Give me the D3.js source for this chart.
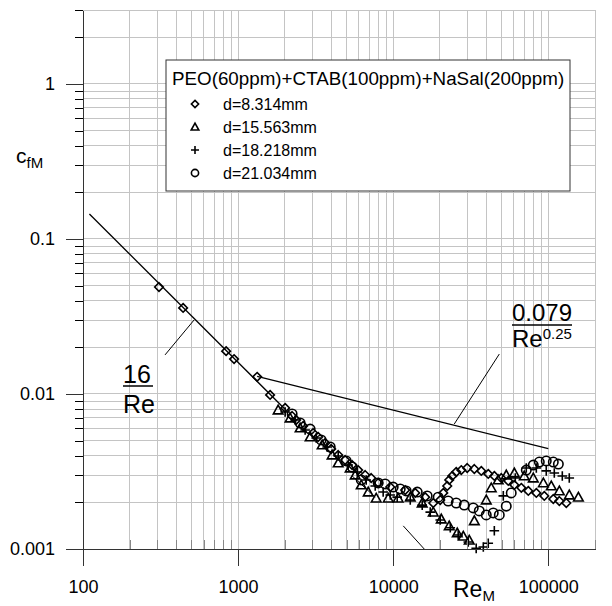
<!DOCTYPE html>
<html>
<head>
<meta charset="utf-8">
<script src="https://cdn.jsdelivr.net/npm/d3@7"></script>
<style>
  body { margin: 0; background: #fff; }
  svg { font-family: "Liberation Sans", Arial, sans-serif; }
</style>
</head>
<body>
<div id="chart"></div>
<script>
// ---- data: [Re_M, c_fM] ----
const d8314 = [[309,0.0490],[442,0.0359],[837,0.0189],[942,0.0168],[1327,0.0129],[1608,0.00986],[2011,0.00813],[2230,0.00721],[2366,0.00680],[2626,0.00622],[3047,0.00560],[3281,0.00528],[3642,0.00483],[3981,0.00442],[4420,0.00404],[4898,0.00375],[5437,0.00348],[5943,0.00323],[6596,0.00300],[7211,0.00287],[8000,0.00267],[9570,0.00251],[11950,0.00240],[13870,0.00230],[16080,0.00216],[18120,0.00198],[20100,0.00207],[21030,0.00230],[22300,0.00255],[22970,0.00279],[24030,0.00296],[25480,0.00314],[27470,0.00323],[30000,0.00333],[33340,0.00328],[36970,0.00319],[41000,0.00305],[44870,0.00296],[49770,0.00287],[55200,0.00275],[60390,0.00259],[66990,0.00248],[74300,0.00237],[83700,0.00230],[94200,0.00220],[107700,0.00210],[117800,0.00204],[130600,0.00198]];
const d15563 = [[1812,0.00788],[2164,0.00700],[2512,0.00604],[2914,0.00528],[3484,0.00469],[4040,0.00404],[4420,0.00359],[5280,0.00333],[5689,0.00300],[6220,0.00259],[6902,0.00233],[7770,0.00213],[9290,0.00213],[10770,0.00213],[12880,0.00216],[15380,0.00198],[18120,0.00173],[20410,0.00156],[22970,0.00141],[25880,0.00127],[28300,0.00121],[30920,0.00114],[33340,0.00152],[39810,0.00207],[42870,0.00248],[47550,0.00279],[53580,0.00300],[60390,0.00309],[69980,0.00296],[80000,0.00287],[92900,0.00267],[104500,0.00255],[117800,0.00237],[136500,0.00223],[156300,0.00216]];
const d18218 = [[2011,0.00765],[2333,0.00680],[2705,0.00586],[3186,0.00520],[3751,0.00455],[4420,0.00398],[5128,0.00348],[5861,0.00314],[6698,0.00279],[7656,0.00255],[8616,0.00233],[9570,0.00223],[10610,0.00216],[12880,0.00207],[15380,0.00192],[17330,0.00173],[20100,0.00154],[23330,0.00137],[26240,0.00123],[30480,0.00111],[34280,0.00101],[38100,0.00103],[41000,0.00109],[44870,0.00131],[51260,0.00220],[61240,0.00287],[72110,0.00333],[83700,0.00333],[97000,0.00319],[109300,0.00309],[123100,0.00296],[136500,0.00287]];
const d21034 = [[2230,0.00743],[2512,0.00650],[2914,0.00594],[3430,0.00505],[3926,0.00455],[4977,0.00370],[5437,0.00338],[6220,0.00279],[8000,0.00267],[8872,0.00263],[10000,0.00251],[11100,0.00244],[12130,0.00237],[14290,0.00233],[16560,0.00220],[19500,0.00216],[22620,0.00204],[25480,0.00198],[28710,0.00192],[32810,0.00184],[35890,0.00176],[39810,0.00166],[44160,0.00171],[48310,0.00166],[53580,0.00189],[57680,0.00230],[72110,0.00323],[80000,0.00348],[87500,0.00364],[97000,0.00370],[107700,0.00364],[116100,0.00353]];

// reference lines (end points)
const laminar = [[110,0.145],[2000,0.008]];          // 16/Re
const blasius = [[1327,0.0130],[100000,0.00444]];    // 0.079/Re^0.25
const mdrSegA = [[5437,0.00296],[7656,0.00216]];
const mdrSegB = [[11610,0.00141],[15850,0.001]];
const leader16 = [[338,0.01787],[520,0.0300]];
const leaderBl = [[24760,0.00640],[48310,0.0181]];

const legendTitle = "PEO(60ppm)+CTAB(100ppm)+NaSal(200ppm)";
const seriesNames = ["d=8.314mm","d=15.563mm","d=18.218mm","d=21.034mm"];
const xMajor = [100,1000,10000,100000];
const yMajor = [0.001,0.01,0.1,1];
const yLabels = ["0.001","0.01","0.1","1"];

// ---- layout ----
const W = 612, H = 606;
const x = d3.scaleLog().domain([100,200000]).range([83,595]);
const y = d3.scaleLog().domain([0.001,3]).range([549,10]);

const svg = d3.select("#chart").append("svg")
  .attr("width", W).attr("height", H);

// grid values (1..9 per decade)
const xGrid = [], yGrid = [];
for (let e = 2; e <= 5; e++) for (let k = 1; k <= 9; k++) { const v = k * Math.pow(10,e); if (v <= 200000) xGrid.push(v); }
for (let e = -3; e <= 0; e++) for (let k = 1; k <= 9; k++) { const v = k * Math.pow(10,e); if (v <= 3.0001) yGrid.push(v); }

const grid = svg.append("g").attr("stroke","#c4c4c4").attr("stroke-width",1).attr("shape-rendering","crispEdges");
grid.selectAll(".gx").data(xGrid.filter(v => v > 100)).enter().append("line")
  .attr("x1", d => x(d)).attr("x2", d => x(d)).attr("y1", y(3)).attr("y2", y(0.001));
grid.selectAll(".gy").data(yGrid.filter(v => v > 0.001)).enter().append("line")
  .attr("x1", x(100)).attr("x2", x(200000)).attr("y1", d => y(d)).attr("y2", d => y(d));

// ---- reference lines ----
const seg = d3.line().x(d => x(d[0])).y(d => y(d[1]));
[laminar, blasius].forEach(s => svg.append("path").attr("d", seg(s))
  .attr("fill","none").attr("stroke","#000").attr("stroke-width",1.3));
[mdrSegA, mdrSegB, leader16, leaderBl].forEach(s => svg.append("path").attr("d", seg(s))
  .attr("fill","none").attr("stroke","#000").attr("stroke-width",1));

// ---- markers ----
const shapes = {
  diamond: r => `M0,${-r}L${r},0L0,${r}L${-r},0Z`,
  triangle: r => `M0,${-r}L${r},${r*0.8}L${-r},${r*0.8}Z`,
  plus: r => `M${-r},0H${r}M0,${-r}V${r}`,
  circle: r => `M${r},0A${r},${r} 0 1,1 ${-r},0A${r},${r} 0 1,1 ${r},0Z`
};
const series = [
  {data: d8314, shape: "diamond", r: 4.3, lr: 3.6},
  {data: d15563, shape: "triangle", r: 4.8, lr: 3.8},
  {data: d18218, shape: "plus", r: 4.8, lr: 4},
  {data: d21034, shape: "circle", r: 4.7, lr: 3.6}
];
series.forEach(s => {
  svg.append("g").selectAll("path").data(s.data).enter().append("path")
    .attr("transform", d => `translate(${x(d[0])},${y(d[1])})`)
    .attr("d", shapes[s.shape](s.r))
    .attr("fill","none").attr("stroke","#000").attr("stroke-width",1.6);
});

// ---- legend ----
const lg = svg.append("g");
lg.append("rect").attr("x",166).attr("y",60).attr("width",404).attr("height",131)
  .attr("fill","#fff").attr("stroke","#333").attr("stroke-width",1);
lg.append("text").attr("x",172).attr("y",85).attr("font-size",18.8).text(legendTitle);
series.forEach((s,i) => {
  const cy = 104 + i*23;
  lg.append("path").attr("transform",`translate(195,${cy})`).attr("d", shapes[s.shape](s.lr))
    .attr("fill","none").attr("stroke","#000").attr("stroke-width",1.6);
  lg.append("text").attr("x",223).attr("y",cy+5.5).attr("font-size",16).text(seriesNames[i]);
});

// ---- axes ----
const yMinor = yGrid.filter(v => !yMajor.includes(v));
const xMinor = xGrid.filter(v => !xMajor.includes(v));

const ya = svg.append("g").attr("transform",`translate(${x(100)},0)`)
  .call(d3.axisLeft(y).tickValues(yMajor).tickSize(17).tickSizeOuter(0).tickPadding(11)
    .tickFormat((d,i) => yLabels[i]));
svg.append("g").attr("transform",`translate(${x(100)},0)`)
  .call(d3.axisLeft(y).tickValues(yMinor).tickSize(8).tickSizeOuter(0).tickFormat(""))
  .call(g => g.select(".domain").remove());

const xa = svg.append("g").attr("transform",`translate(0,${y(0.001)})`)
  .call(d3.axisBottom(x).tickValues(xMajor).tickSize(17).tickSizeOuter(0).tickPadding(14)
    .tickFormat(d3.format("d")));
svg.append("g").attr("transform",`translate(0,${y(0.001)})`)
  .call(d3.axisTop(x).tickValues(xMinor).tickSize(9).tickSizeOuter(0).tickFormat(""))
  .call(g => g.select(".domain").remove())
  .call(g => g.selectAll("line").attr("stroke","#888"));

svg.selectAll(".tick text").attr("font-size",18).attr("font-family",'"Liberation Sans", Arial, sans-serif').attr("fill","#000");
svg.selectAll(".domain, .tick line").attr("shape-rendering","crispEdges");
ya.selectAll("line, .domain").attr("stroke","#333");
xa.selectAll("line, .domain").attr("stroke","#333");

// ---- axis titles ----
const yt = svg.append("text").attr("x",16).attr("y",163).attr("font-size",21);
yt.append("tspan").text("c");
yt.append("tspan").attr("font-size",15).attr("dy",5).text("fM");

const xt = svg.append("text").attr("x",453).attr("y",597).attr("font-size",23);
xt.append("tspan").text("Re");
xt.append("tspan").attr("font-size",15).attr("dy",4).text("M");

// ---- formula annotations ----
svg.append("text").attr("x",123).attr("y",383).attr("font-size",25).text("16");
svg.append("line").attr("x1",123).attr("x2",153).attr("y1",386).attr("y2",386).attr("stroke","#000").attr("stroke-width",1.5);
svg.append("text").attr("x",123).attr("y",413).attr("font-size",25).text("Re");

svg.append("text").attr("x",512).attr("y",321).attr("font-size",24).text("0.079");
svg.append("line").attr("x1",512).attr("x2",572).attr("y1",325).attr("y2",325).attr("stroke","#000").attr("stroke-width",1.5);
const bl = svg.append("text").attr("x",512).attr("y",347).attr("font-size",24);
bl.append("tspan").text("Re");
bl.append("tspan").attr("font-size",15).attr("dy",-8).text("0.25");
</script>
</body>
</html>
